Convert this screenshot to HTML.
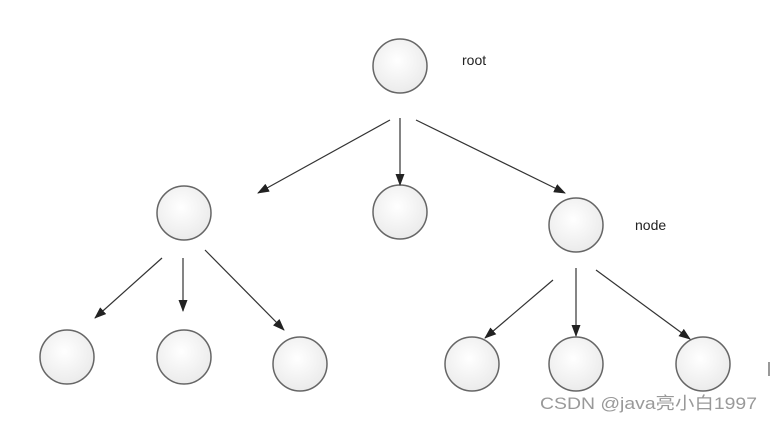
<!DOCTYPE html>
<html><head><meta charset="utf-8"><style>body{margin:0;background:#fff}svg{display:block}</style></head><body>
<svg width="771" height="422" xmlns="http://www.w3.org/2000/svg">
<defs>
<radialGradient id="g" cx="45%" cy="40%" r="60%"><stop offset="0" stop-color="#fff"/><stop offset="1" stop-color="#ebebeb"/></radialGradient>
<marker id="a" markerWidth="12" markerHeight="9" refX="11" refY="4.5" orient="auto" markerUnits="userSpaceOnUse"><path d="M0,0 L12,4.5 L0,9 Z" fill="#222"/></marker>
</defs>
<g fill="url(#g)" stroke="#666" stroke-width="1.5">
<circle cx="400" cy="66" r="27"/>
<circle cx="184" cy="213" r="27"/>
<circle cx="400" cy="212" r="27"/>
<circle cx="576" cy="225" r="27"/>
<circle cx="67" cy="357" r="27"/>
<circle cx="184" cy="357" r="27"/>
<circle cx="300" cy="364" r="27"/>
<circle cx="472" cy="364" r="27"/>
<circle cx="576" cy="364" r="27"/>
<circle cx="703" cy="364" r="27"/>
</g>
<g stroke="#333" stroke-width="1.2" marker-end="url(#a)">
<line x1="390" y1="120" x2="258" y2="193"/>
<line x1="400" y1="118" x2="400" y2="185"/>
<line x1="416" y1="120" x2="565" y2="193"/>
<line x1="162" y1="258" x2="95" y2="318"/>
<line x1="183" y1="258" x2="183" y2="311"/>
<line x1="205" y1="250" x2="284" y2="330"/>
<line x1="553" y1="280" x2="485" y2="338"/>
<line x1="576" y1="268" x2="576" y2="336"/>
<line x1="596" y1="270" x2="690" y2="339"/>
</g>
<g font-family="Liberation Sans, sans-serif" font-size="14" fill="#222">
<text x="462" y="65">root</text>
<text x="635" y="230">node</text>
</g>
<line x1="769" y1="362" x2="769" y2="376" stroke="#777" stroke-width="1.5"/>
<text x="540" y="409" font-family="Liberation Sans, 'Noto Sans CJK SC', sans-serif" font-size="17" fill="#999" textLength="217" lengthAdjust="spacingAndGlyphs">CSDN @java亮小白1997</text>
</svg>
</body></html>
